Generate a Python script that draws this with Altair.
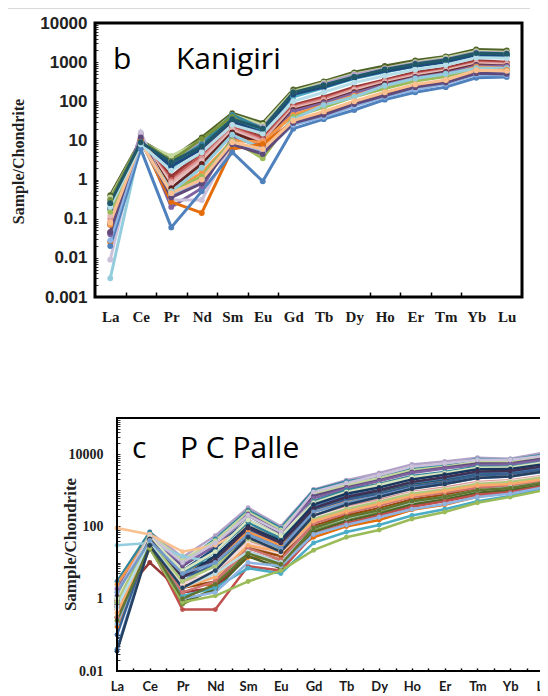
import altair as alt
import pandas as pd

ELEMENTS = ["La", "Ce", "Pr", "Nd", "Sm", "Eu", "Gd", "Tb", "Dy", "Ho", "Er", "Tm", "Yb", "Lu"]

# ---- panel b: Kanigiri (chondrite-normalised values) ----
KANIGIRI_COLORS = [
    "#4F6228", "#C3D69B", "#B3A2C7", "#31859C", "#77933C", "#4BACC6", "#1F497D", "#953735",
    "#C0504D", "#D99694", "#E6B9B8", "#632523", "#8064A2", "#F79646", "#9BBB59", "#93CDDD",
    "#CCC1DA", "#E46C0A", "#4F81BD", "#8EB4E3", "#604A7B", "#FAC090", "#B7DEE8", "#215968",
]
KANIGIRI = [
    [0.4, 10, 3.5, 12, 50, 28, 200, 320, 550, 800, 1100, 1400, 2100, 2000],
    [0.35, 9, 4, 10, 45, 25, 180, 300, 500, 700, 1000, 1300, 1900, 1800],
    [0.3, 10, 3, 9, 40, 22, 160, 280, 480, 680, 950, 1200, 1800, 1700],
    [0.25, 9, 2.5, 8, 45, 20, 150, 250, 420, 620, 850, 1100, 1600, 1600],
    [0.3, 10, 3, 11, 40, 14, 140, 240, 400, 600, 800, 1050, 1500, 1500],
    [0.2, 9, 2, 7, 35, 18, 130, 220, 380, 560, 780, 1000, 1500, 1450],
    [0.18, 9, 2.2, 6, 30, 16, 150, 230, 400, 580, 800, 1000, 1550, 1500],
    [0.045, 10, 1.2, 5, 25, 12, 80, 130, 230, 350, 550, 700, 1100, 1000],
    [0.08, 10, 1.0, 4, 22, 11, 75, 120, 210, 330, 500, 650, 1000, 950],
    [0.1, 9, 0.9, 3.5, 20, 10, 70, 110, 200, 320, 480, 620, 950, 900],
    [0.12, 9, 0.8, 3, 18, 9, 65, 100, 190, 300, 450, 600, 900, 850],
    [0.07, 10, 0.6, 2.5, 16, 8, 60, 95, 170, 280, 420, 560, 850, 800],
    [0.04, 15, 0.2, 0.6, 12, 7, 55, 90, 160, 260, 400, 520, 800, 780],
    [0.07, 10, 0.5, 1.5, 10, 9, 45, 80, 140, 230, 350, 450, 750, 700],
    [0.15, 9, 0.5, 1.2, 10, 3.5, 40, 70, 130, 210, 330, 430, 700, 680],
    [0.003, 9, 0.5, 2, 14, 6, 35, 80, 130, 250, 380, 500, 700, 700],
    [0.009, 16, 0.3, 0.3, 8, 5, 30, 50, 90, 150, 250, 330, 550, 550],
    [0.025, 10, 0.27, 0.14, 6, 8, 30, 50, 90, 160, 260, 330, 600, 620],
    [0.02, 6, 0.06, 0.5, 5, 0.9, 20, 35, 60, 110, 170, 230, 400, 420],
    [0.028, 9, 0.4, 1, 9, 5, 25, 40, 75, 130, 200, 280, 480, 470],
    [0.045, 12, 0.35, 0.8, 8, 4.5, 28, 45, 85, 140, 230, 300, 520, 500],
    [0.08, 9, 0.45, 1.0, 9, 6, 32, 55, 100, 170, 270, 350, 620, 600],
    [0.2, 8, 1.7, 5, 25, 15, 100, 170, 300, 450, 650, 850, 1300, 1250],
    [0.25, 9, 2.8, 7, 35, 20, 170, 260, 420, 650, 900, 1150, 1700, 1650],
]

# ---- panel c: P C Palle ----
PCPALLE_COLORS = [
    "#B3A2C7", "#31859C", "#C3D69B", "#604A7B", "#8064A2", "#1F497D", "#4F81BD", "#215968",
    "#FAC090", "#93CDDD", "#E46C0A", "#77933C", "#4F6228", "#C0504D", "#953735", "#D99694",
    "#E6B9B8", "#4BACC6", "#9BBB59", "#8EB4E3", "#984807", "#F79646", "#376092", "#CCC1DA",
    "#31849B", "#D7E4BD", "#17375E", "#F2DCDB", "#403152", "#CD7371", "#AFC97A", "#F9AB6B",
    "#B7DEE8", "#729ACA", "#5F7530", "#254061",
]
PCPALLE = [
    [2, 70, 14, 55, 330, 100, 1050, 1900, 3000, 5200, 6300, 8000, 7500, 11000],
    [3, 70, 10, 45, 280, 90, 1000, 1750, 2400, 4100, 5000, 7300, 7000, 9500],
    [1.5, 60, 12, 40, 250, 80, 800, 1400, 2200, 3600, 4500, 6000, 6000, 8000],
    [1.2, 55, 8, 30, 200, 65, 700, 1200, 1900, 3200, 4200, 5500, 5500, 7500],
    [1.8, 50, 9, 28, 220, 70, 600, 1100, 1800, 3000, 4000, 5000, 5200, 7000],
    [0.8, 45, 6, 25, 150, 55, 330, 600, 900, 1500, 2000, 3000, 3000, 4000],
    [0.04, 35, 3, 10, 80, 30, 350, 700, 1000, 1600, 2200, 3000, 3200, 4200],
    [1.0, 50, 5, 15, 100, 50, 300, 550, 850, 1400, 1800, 2700, 2800, 3600],
    [90, 60, 20, 30, 100, 45, 500, 900, 1500, 2400, 3000, 4000, 4200, 5500],
    [30, 35, 15, 10, 40, 20, 200, 400, 700, 1200, 1600, 2400, 2600, 3500],
    [0.17, 25, 2.4, 2.4, 14, 12, 50, 100, 150, 290, 400, 660, 850, 1170],
    [0.5, 30, 0.7, 2, 20, 8, 80, 160, 250, 450, 600, 900, 1100, 1500],
    [0.3, 25, 0.8, 1.8, 15, 7, 70, 140, 220, 400, 550, 850, 1000, 1400],
    [0.6, 30, 0.5, 0.5, 8, 6, 60, 120, 200, 350, 500, 750, 900, 1300],
    [0.9, 10, 1.5, 2, 20, 10, 100, 200, 300, 550, 700, 1100, 1300, 1700],
    [0.6, 40, 3, 5, 40, 20, 200, 350, 550, 900, 1200, 1700, 1900, 2500],
    [0.4, 35, 2, 4, 30, 15, 150, 280, 450, 750, 1000, 1400, 1600, 2200],
    [0.3, 30, 1.2, 2, 7, 5, 35, 70, 110, 200, 300, 500, 700, 1100],
    [0.3, 25, 0.8, 1.2, 3, 6, 22, 50, 80, 160, 250, 450, 650, 1000],
    [0.2, 30, 1, 1.5, 10, 8, 60, 110, 180, 300, 420, 650, 800, 1200],
    [0.5, 40, 2, 3, 25, 15, 100, 200, 320, 550, 750, 1100, 1300, 1800],
    [2.5, 50, 5, 12, 70, 30, 250, 500, 800, 1300, 1700, 2500, 2700, 3500],
    [0.1, 40, 4, 8, 60, 25, 300, 550, 800, 1300, 1700, 2600, 2800, 3800],
    [1.5, 55, 10, 35, 200, 70, 900, 1600, 2600, 4500, 5500, 7000, 7000, 9000],
    [0.8, 45, 5, 20, 130, 45, 500, 1000, 1500, 2500, 3200, 4500, 4500, 6000],
    [1, 50, 6, 20, 150, 55, 450, 900, 1400, 2300, 3000, 4200, 4300, 5800],
    [0.6, 40, 4, 15, 100, 40, 400, 800, 1200, 2000, 2700, 3800, 3900, 5200],
    [0.5, 35, 2.5, 6, 35, 18, 180, 320, 500, 850, 1100, 1600, 1800, 2400],
    [0.7, 45, 4, 12, 90, 35, 320, 650, 1000, 1700, 2300, 3300, 3400, 4600],
    [0.3, 30, 1.5, 3, 25, 12, 120, 230, 380, 650, 850, 1200, 1400, 1900],
    [0.8, 40, 3, 8, 45, 22, 160, 300, 480, 800, 1050, 1500, 1700, 2300],
    [0.4, 35, 2, 4, 30, 20, 140, 260, 420, 700, 950, 1350, 1500, 2000],
    [0.6, 35, 2, 5, 20, 10, 90, 170, 280, 480, 650, 1000, 1200, 1600],
    [1.5, 40, 5, 10, 60, 25, 250, 450, 700, 1150, 1500, 2200, 2400, 3200],
    [0.25, 30, 1.0, 2.5, 18, 9, 90, 180, 280, 500, 650, 1000, 1150, 1600],
    [0.035, 30, 2, 6, 50, 20, 200, 400, 650, 1100, 1500, 2200, 2400, 3300],
]

B_LABELS = [0.001, 0.01, 0.1, 1, 10, 100, 1000, 10000]
C_LABELS = [0.01, 1, 100, 10000]
B_XTICKS = [0.5, 1.5, 2.5, 3.5, 4.5, 5.5, 8.5, 9.5, 10.5, 11.5]
C_XTICKS = [0.5 * k for k in range(1, 26)]

W, H = 532, 686


def long_df(prefix, rows):
    recs = []
    for s, vals in enumerate(rows):
        for i, v in enumerate(vals):
            recs.append({"series": f"{prefix}{s:02d}", "idx": i, "element": ELEMENTS[i], "value": v})
    return pd.DataFrame(recs)


df_b = long_df("b", KANIGIRI)
df_c = long_df("c", PCPALLE)
names = [f"b{s:02d}" for s in range(len(KANIGIRI))] + [f"c{s:02d}" for s in range(len(PCPALLE))]
color_scale = alt.Scale(domain=names, range=KANIGIRI_COLORS + PCPALLE_COLORS)
color = alt.Color("series:N", scale=color_scale, legend=None)

label_expr = "[" + ",".join(f"'{e}'" for e in ELEMENTS) + "][datum.value]"


def minor_ticks(lo, hi):
    out = []
    for e in range(lo, hi):
        for m in range(1, 10):
            out.append(m * 10.0 ** e)
    out.append(10.0 ** hi)
    return out


# geometry (chart coordinates)
B_X0, B_X1, B_Y0, B_Y1 = 87, 514, 15, 289
C_X0, C_X1, C_Y0, C_Y1 = 109, 535, 410, 663

xb = alt.Scale(domain=[-0.5, 13.5], range=[B_X0, B_X1], nice=False, zero=False)
yb = alt.Scale(type="log", domain=[0.001, 10000], range=[B_Y1, B_Y0], nice=False)
xc = alt.Scale(domain=[0, 13], range=[C_X0, C_X1], nice=False, zero=False)
yc = alt.Scale(type="log", domain=[0.01, 100000], range=[C_Y1, C_Y0], nice=False)


def panel(df, xs, ys, x_axis, y_axis, xt_axis, yt_axis, sw, msize):
    base = alt.Chart(df)
    lines = base.mark_line(strokeWidth=sw).encode(
        x=alt.X("idx:Q", scale=xs, axis=x_axis),
        y=alt.Y("value:Q", scale=ys, axis=y_axis),
        color=color,
        order="idx:Q",
    )
    pts = base.mark_circle(size=msize, opacity=1).encode(
        x=alt.X("idx:Q", scale=xs, axis=xt_axis),
        y=alt.Y("value:Q", scale=ys, axis=yt_axis),
        color=color,
    )
    return [lines, pts]


b_layers = panel(
    df_b, xb, yb,
    alt.Axis(orient="bottom", offset=B_Y1 - H, values=list(range(14)), labelExpr=label_expr,
             domain=False, ticks=False, grid=False, labelFont="Liberation Serif",
             labelFontWeight="bold", labelFontSize=15, labelColor="#1a1a1a", labelPadding=12,
             labelFlush=False, labelOverlap=False, title=None),
    alt.Axis(orient="left", offset=-B_X0, values=B_LABELS, format="~g", domain=False,
             ticks=False, grid=False, labelFont="Liberation Sans", labelFontWeight="bold",
             labelFontSize=17, labelColor="#222222", labelPadding=8, labelOverlap=False,
             title="Sample/Chondrite", titleFont="Liberation Serif", titleFontWeight="bold",
             titleFontSize=16, titleColor="#222222", titleX=10 - B_X0, titleY=153,
             titleAngle=270, titleAlign="center", titleBaseline="middle"),
    alt.Axis(orient="top", offset=-B_Y1, values=B_XTICKS, labels=False, domain=False,
             grid=False, tickSize=5, tickWidth=1.5, tickColor="black", title=None),
    alt.Axis(orient="right", offset=B_X0 - W, values=minor_ticks(-3, 4), labels=False,
             domain=False, grid=False, tickSize=3, tickWidth=1, tickColor="#333333", title=None),
    3, 34,
)

c_layers = panel(
    df_c, xc, yc,
    alt.Axis(orient="bottom", offset=C_Y1 - H, values=list(range(14)), labelExpr=label_expr,
             domain=False, ticks=False, grid=False, labelFont="Lato", labelFontWeight="bold",
             labelFontSize=13, labelColor="#1a1a1a", labelPadding=9, labelFlush=False,
             labelOverlap=False, title=None),
    alt.Axis(orient="left", offset=-C_X0, values=C_LABELS, format="~g", domain=False,
             ticks=False, grid=False, labelFont="Liberation Serif", labelFontWeight="bold",
             labelFontSize=14, labelColor="#222222", labelPadding=14, labelOverlap=False,
             title="Sample/Chondrite", titleFont="Liberation Serif", titleFontWeight="bold",
             titleFontSize=17, titleColor="#222222", titleX=62 - C_X0, titleY=536,
             titleAngle=270, titleAlign="center", titleBaseline="middle"),
    alt.Axis(orient="top", offset=-C_Y1, values=C_XTICKS, labels=False, domain=False,
             grid=False, tickSize=3, tickWidth=1.5, tickColor="black", title=None),
    alt.Axis(orient="right", offset=C_X0 - W, values=minor_ticks(-2, 5), labels=False,
             domain=False, grid=False, tickSize=3, tickWidth=1, tickColor="#333333", title=None),
    2.5, 24,
)


def text_layer(txt, x, y, size):
    return alt.Chart(pd.DataFrame({"t": [txt]})).mark_text(
        align="left", baseline="alphabetic", fontSize=size, font="Open Sans", color="black"
    ).encode(text="t:N", x=alt.value(x), y=alt.value(y))


def frame(x1, x2, y1, y2, w):
    return alt.Chart(pd.DataFrame({"a": [0]})).mark_rect(
        fillOpacity=0, stroke="black", strokeWidth=w
    ).encode(x=alt.value(x1), x2=alt.value(x2), y=alt.value(y1), y2=alt.value(y2))


top_line = alt.Chart(pd.DataFrame({"a": [0]})).mark_rule(color="#d9d9d9", strokeWidth=1).encode(
    x=alt.value(0), x2=alt.value(522), y=alt.value(0.5)
)

layers = (
    [top_line]
    + b_layers
    + c_layers
    + [
        frame(B_X0, B_X1, B_Y0, B_Y1, 3),
        frame(C_X0, C_X1, C_Y0, C_Y1, 2),
        text_layer("b", 105, 61, 30),
        text_layer("Kanigiri", 168, 61, 30),
        text_layer("c", 124, 450, 30),
        text_layer("P C Palle", 172, 450, 30),
    ]
)

chart = (
    alt.layer(*layers)
    .resolve_scale(x="independent", y="independent")
    .resolve_axis(x="independent", y="independent")
    .properties(width=W, height=H, padding=0, autosize=alt.AutoSizeParams(type="none"))
    .configure_view(stroke=None)
)

chart.save("out.html", embed_options={"renderer": "svg", "actions": False})
